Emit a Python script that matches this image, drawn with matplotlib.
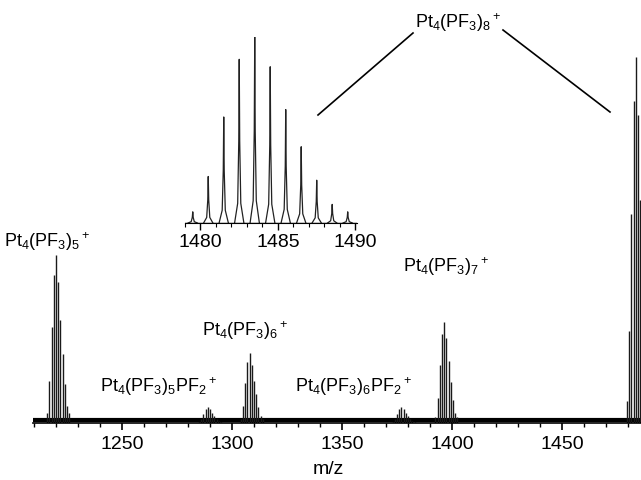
import numpy as np
import matplotlib
matplotlib.use('Agg')
import matplotlib.pyplot as plt
from matplotlib.lines import Line2D
from matplotlib.ticker import MultipleLocator

plt.rcParams['font.family'] = ['Liberation Sans', 'DejaVu Sans']
plt.rcParams['mathtext.fontset'] = 'custom'
plt.rcParams['mathtext.rm'] = 'Liberation Sans'
plt.rcParams['mathtext.it'] = 'Liberation Sans'

# isotope pattern of Pt4(PF3)8+ (m/z, relative intensity)
inset_mz = [1479.5, 1480.5, 1481.5, 1482.5, 1483.5, 1484.5,
            1485.5, 1486.5, 1487.5, 1488.5, 1489.5]
inset_int = [6, 25, 57, 88, 100, 84, 61, 41, 23, 10, 6]

# clusters in the full spectrum: position of most intense line and its height
cluster_mz = [1220, 1289, 1308, 1377, 1396.5, 1483.6]
cluster_height = [46, 4.4, 19, 4.4, 27.6, 100]

labels = [r'$\mathrm{Pt_4(PF_3)_5{}^+}$', r'$\mathrm{Pt_4(PF_3)_5PF_2{}^+}$',
          r'$\mathrm{Pt_4(PF_3)_6{}^+}$', r'$\mathrm{Pt_4(PF_3)_6PF_2{}^+}$',
          r'$\mathrm{Pt_4(PF_3)_7{}^+}$', r'$\mathrm{Pt_4(PF_3)_8{}^+}$']
# label anchors in pixels (x centre, baseline y from top)
label_px = [(47, 247), (158, 392), (245, 336), (353, 392), (446, 272), (458, 28)]

W, H = 641, 480
fig = plt.figure(figsize=(W / 100, H / 100), dpi=100)

# main spectrum
ax = fig.add_axes([33 / W, (H - 423) / H, 1 - 33 / W, 383 / H])
pattern = np.array(inset_int) / max(inset_int)
offsets = np.array(inset_mz) - inset_mz[int(np.argmax(inset_int))]
for mz, h in zip(cluster_mz, cluster_height):
    ax.vlines(mz + offsets, 0, h * pattern, color='#1a1a1a', lw=1.0)
ax.axhline(0.7, color='black', lw=3.0, zorder=1)
ax.set_xlim(1209.5, 1486)
ax.set_ylim(0, 104.6)
for s in ['left', 'right', 'top']:
    ax.spines[s].set_visible(False)
ax.spines['bottom'].set_linewidth(1.2)
ax.set_yticks([])
ax.xaxis.set_major_locator(MultipleLocator(50))
ax.xaxis.set_minor_locator(MultipleLocator(10))
ax.tick_params(axis='x', which='major', length=5, width=1.2, pad=4.5, labelsize=14)
ax.tick_params(axis='x', which='minor', length=3, width=1)
ax.set_xticks([1250, 1300, 1350, 1400, 1450])

# inset with the resolved isotope pattern
axi = fig.add_axes([185 / W, (H - 223) / H, (357 - 185) / W, 186 / H])
w = 0.3
for mz, h in zip(inset_mz, inset_int):
    axi.plot([mz - w, mz - 0.1, mz - 0.03, mz, mz + 0.03, mz + 0.1, mz + w],
             [0, h * 0.12, h * 0.5, h, h * 0.5, h * 0.12, 0],
             color='#222222', lw=0.9)
axi.axhline(0, color='black', lw=1)
axi.set_xlim(1479.0, 1490.1)
axi.set_ylim(0, 100)
axi.patch.set_alpha(0)
for s in ['left', 'right', 'top']:
    axi.spines[s].set_visible(False)
axi.set_yticks([])
axi.set_xticks([1480, 1485, 1490])
axi.xaxis.set_minor_locator(MultipleLocator(1))
axi.tick_params(axis='x', which='major', length=5, width=1, pad=3, labelsize=14)
axi.tick_params(axis='x', which='minor', length=3, width=0.8)

# connector lines from the label to the inset and the peak
for (x0, y0), (x1, y1) in [((318, 115), (413, 33)), ((503, 30), (610, 112))]:
    fig.add_artist(Line2D([x0 / W, x1 / W], [1 - y0 / H, 1 - y1 / H],
                          transform=fig.transFigure, color='black', lw=1.2))

for text, (px, py) in zip(labels, label_px):
    fig.text(px / W, 1 - py / H, text, ha='center', va='baseline', fontsize=13)

fig.text(328 / W, 1 - 470 / H, 'm/z', ha='center', va='center', fontsize=14)

fig.savefig('out.png', dpi=100)
